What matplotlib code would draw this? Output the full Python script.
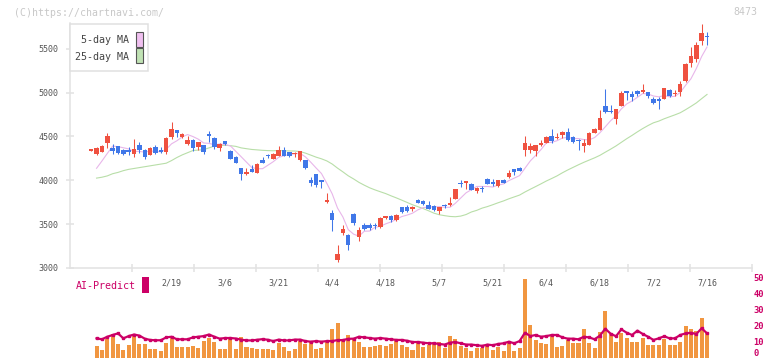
import numpy as np
import pandas as pd
import matplotlib
matplotlib.use("Agg")
import matplotlib.pyplot as plt
from matplotlib.patches import Rectangle

# OHLC, one row per trading day (index 0 .. 115)
opens = [4340, 4297, 4327, 4430, 4369, 4392, 4346, 4338, 4303, 4403,
         4346, 4293, 4380, 4331, 4319, 4495, 4575, 4498, 4415, 4460,
         4384, 4403, 4529, 4483, 4373, 4449, 4335, 4270, 4141, 4068,
         4129, 4087, 4232, 4281, 4243, 4278, 4342, 4327, 4297, 4232,
         4232, 4003, 4072, 3988, 3756, 3623, 3090, 3394, 3375, 3615,
         3356, 3490, 3490, 3490, 3463, 3574, 3593, 3547, 3695, 3699,
         3676, 3775, 3768, 3718, 3707, 3649, 3714, 3722, 3790, 3962,
         3973, 3958, 3878, 3901, 4015, 3966, 3935, 4003, 4034, 4125,
         4137, 4346, 4346, 4335, 4403, 4426, 4506, 4479, 4518, 4548,
         4491, 4449, 4392, 4403, 4537, 4575, 4849, 4784, 4697, 4849,
         5020, 4986, 5020, 5005, 5012, 4929, 4914, 4929, 5031, 4982,
         5012, 5134, 5344, 5382, 5591, 5648]
highs = [4345, 4384, 4405, 4540, 4414, 4392, 4361, 4377, 4472, 4433,
         4361, 4377, 4403, 4380, 4495, 4666, 4575, 4544, 4506, 4468,
         4437, 4403, 4563, 4491, 4430, 4449, 4346, 4278, 4141, 4141,
         4175, 4198, 4266, 4300, 4312, 4392, 4380, 4327, 4327, 4335,
         4232, 4038, 4072, 4003, 3851, 3661, 3261, 3490, 3387, 3623,
         3470, 3509, 3509, 3509, 3577, 3593, 3604, 3615, 3699, 3714,
         3707, 3783, 3775, 3764, 3714, 3695, 3730, 3806, 3901, 4003,
         3992, 3966, 3920, 3935, 4030, 4011, 4003, 4015, 4118, 4125,
         4152, 4506, 4422, 4403, 4460, 4506, 4586, 4537, 4567, 4597,
         4506, 4468, 4468, 4556, 4597, 4803, 5043, 4857, 4811, 5024,
         5020, 5024, 5031, 5096, 5012, 4955, 4948, 5051, 5043, 5031,
         5134, 5336, 5519, 5584, 5785, 5698]
lows = [4335, 4285, 4320, 4365, 4296, 4296, 4285, 4285, 4270, 4308,
        4247, 4289, 4304, 4316, 4300, 4475, 4495, 4479, 4403, 4338,
        4350, 4297, 4437, 4357, 4335, 4399, 4239, 4194, 4007, 4061,
        4095, 4087, 4201, 4251, 4243, 4278, 4278, 4270, 4270, 4224,
        4129, 3939, 3920, 3916, 3745, 3425, 3067, 3375, 3204, 3489,
        3311, 3432, 3432, 3440, 3455, 3554, 3524, 3535, 3630, 3642,
        3649, 3737, 3718, 3672, 3649, 3615, 3688, 3707, 3790, 3920,
        3905, 3890, 3859, 3871, 3954, 3935, 3920, 3973, 4030, 4061,
        4106, 4281, 4308, 4281, 4392, 4422, 4426, 4472, 4483, 4449,
        4422, 4346, 4327, 4403, 4537, 4575, 4765, 4765, 4643, 4849,
        4917, 4910, 4963, 4993, 4936, 4872, 4818, 4929, 4955, 4963,
        4963, 5127, 5298, 5355, 5546, 5546]
closes = [4345, 4369, 4392, 4506, 4338, 4316, 4305, 4327, 4357, 4346,
          4270, 4369, 4312, 4327, 4487, 4586, 4544, 4533, 4460, 4373,
          4437, 4327, 4510, 4384, 4411, 4411, 4247, 4201, 4076, 4099,
          4099, 4186, 4201, 4276, 4300, 4346, 4278, 4281, 4300, 4335,
          4144, 3973, 3950, 3984, 3775, 3547, 3158, 3444, 3261, 3516,
          3432, 3440, 3455, 3478, 3566, 3577, 3547, 3604, 3638, 3649,
          3684, 3737, 3733, 3672, 3657, 3695, 3707, 3726, 3901, 3958,
          3992, 3890, 3909, 3897, 3958, 3962, 4003, 3973, 4087, 4099,
          4106, 4422, 4392, 4403, 4430, 4495, 4449, 4483, 4556, 4460,
          4437, 4445, 4426, 4540, 4590, 4712, 4784, 4776, 4811, 4993,
          4993, 4955, 4982, 5031, 4963, 4879, 4910, 5051, 4963, 4990,
          5096, 5325, 5420, 5546, 5679, 5637]

# moving averages: first values (they need earlier days)
ma5_head = [4137, 4220, 4306]
ma25_head = [4025, 4035, 4050, 4075, 4090, 4110, 4125, 4135, 4145, 4155,
             4165, 4175, 4185, 4195, 4225, 4260, 4290, 4315, 4340, 4345,
             4350, 4370, 4390]

volume = [np.nan, 7.3, 4.8, 12.0, 14.7, 8.6, 4.8, 7.9, 13.6, 8.6,
          8.6, 5.4, 5.4, 4.2, 9.4, 12.1, 6.5, 6.8, 6.8, 7.3,
          6.1, 10.5, 12.4, 9.9, 5.4, 5.4, 11.5, 5.4, 12.9, 6.8,
          6.2, 5.5, 5.5, 5.2, 4.9, 9.2, 6.7, 4.3, 5.5, 10.4,
          8.6, 10.4, 5.4, 6.0, 10.4, 18.0, 21.8, 11.3, 14.3, 12.0,
          10.0, 7.0, 6.5, 7.4, 7.9, 7.3, 8.6, 10.2, 7.9, 6.9,
          4.8, 9.4, 6.9, 7.9, 9.6, 9.6, 6.2, 13.6, 11.9, 7.5,
          5.9, 4.4, 5.9, 5.9, 8.6, 4.8, 6.5, 4.4, 9.4, 4.2,
          6.1, 49.2, 20.4, 11.1, 9.2, 8.6, 13.4, 6.7, 7.3, 11.1,
          9.2, 9.2, 17.9, 9.2, 6.1, 16.1, 29.2, 14.7, 9.8, 15.2,
          12.1, 9.8, 9.8, 12.1, 7.9, 7.9, 7.9, 11.5, 7.9, 7.9,
          9.8, 19.8, 17.7, 16.9, 25.0, 15.2]
ai_predict = [np.nan, 12.1, 11.5, 13.1, 14.2, 15.2, 12.1, 13.5, 14.5, 13.8,
              11.9, 11.1, 10.9, 10.9, 12.7, 13.1, 11.5, 11.5, 11.5, 12.7,
              13.1, 13.5, 14.5, 13.1, 11.9, 12.3, 12.3, 12.0, 11.3, 10.8,
              10.8, 11.2, 11.6, 11.2, 10.4, 11.3, 10.8, 10.8, 11.3, 11.3,
              10.4, 10.0, 10.4, 10.0, 10.4, 10.4, 11.0, 11.0, 11.8, 11.9,
              13.1, 12.7, 12.3, 11.9, 12.3, 11.9, 11.5, 11.1, 11.1, 10.6,
              9.8, 9.8, 9.4, 9.0, 9.0, 8.6, 8.2, 9.4, 9.8, 9.0,
              8.2, 8.2, 7.8, 7.4, 8.2, 7.8, 8.6, 9.0, 10.0, 9.0,
              10.4, 15.6, 13.5, 14.2, 13.1, 13.5, 14.2, 14.2, 12.7, 11.9,
              11.9, 11.5, 13.1, 12.7, 11.5, 13.8, 18.1, 15.0, 13.4, 17.7,
              15.6, 14.2, 16.9, 14.8, 13.1, 11.1, 12.1, 13.4, 12.1, 12.1,
              14.2, 15.2, 15.6, 14.8, 18.4, 15.2]

date_labels = ["2/19", "3/6", "3/21", "4/4", "4/18", "5/7", "5/21",
               "6/4", "6/18", "7/2", "7/16"]
label_pos = [15, 25, 35, 45, 55, 65, 75, 85, 95, 105, 115]

UP = "#ef5140"
DOWN = "#4077e8"
MONO = "DejaVu Sans Mono"

W, H = 772, 361
def fx(px):
    return px / W
def fy(py):
    return 1 - py / H

fig = plt.figure(figsize=(W / 100, H / 100), dpi=100)

# price panel
ax = fig.add_axes([fx(70), fy(267.9), fx(752) - fx(70), fy(22.6) - fy(267.9)])
x = np.arange(len(closes))
ma5 = pd.Series(closes).rolling(5).mean().to_numpy()
ma5[1:4] = ma5_head
ma25 = pd.Series(closes).rolling(25).mean().to_numpy()
ma25[1:24] = ma25_head
ax.plot(x, ma25, color="#b8dea8", lw=0.8, zorder=1)
ax.plot(x, ma5, color="#e8b6ea", lw=0.8, zorder=1)

o = np.array(opens)
c = np.array(closes)
cols = [UP if cc >= oo else DOWN for oo, cc in zip(o, c)]
ax.vlines(x, lows, highs, colors=cols, lw=0.75, zorder=2)
body = np.maximum(np.abs(c - o), 14)
ax.bar(x, body, bottom=np.minimum(o, c), width=0.84, color=cols, zorder=3)

ax.set_xlim(-3.96, 123.4)
ax.set_ylim(3000, 5800)
ax.set_yticks([3000, 3500, 4000, 4500, 5000, 5500])
ax.set_xticks(label_pos)
ax.set_xticklabels(date_labels)
ax.set_xticks(np.linspace(-3.96, 123.4, 12)[1:], minor=True)
ax.tick_params(axis="x", which="major", length=0, pad=7.5,
               labelsize=6, labelcolor="#555555")
ax.tick_params(axis="x", which="minor", direction="inout", length=6,
               width=1.1, color="#e2e2e2")
ax.tick_params(axis="y", direction="inout", length=6, width=1.1,
               color="#e2e2e2", pad=5, labelsize=6, labelcolor="#555555")
for lab in ax.get_xticklabels() + ax.get_yticklabels():
    lab.set_family(MONO)
for s in ["top", "right"]:
    ax.spines[s].set_visible(False)
for s in ["left", "bottom"]:
    ax.spines[s].set_color("#e2e2e2")
    ax.spines[s].set_linewidth(1.1)

# volume / AI panel
ax2 = fig.add_axes([fx(70), fy(357.7), fx(752) - fx(70), fy(277.7) - fy(357.7)])
ax2.bar(x, volume, width=0.75, color="#f19640", zorder=1)
ax2.plot(x, ai_predict, color="#cc0066", lw=1.6, marker="s", ms=1.8, zorder=2)
ax2.set_xlim(-3.96, 123.4)
ax2.set_ylim(0, 50)
ax2.set_xticks([])
ax2.yaxis.tick_right()
ax2.set_yticks([0, 10, 20, 30, 40, 50])
ax2.tick_params(axis="y", length=0, pad=1, labelsize=6.3, labelcolor="#cc0066")
for lab in ax2.get_yticklabels():
    lab.set_family(MONO)
    lab.set_fontweight("bold")
# keep the bottom "0" inside the picture
ax2.get_yticklabels()[0].set_va("bottom")
for s in ax2.spines.values():
    s.set_visible(False)
ax2.patch.set_alpha(0)

# legend box
fig.patches.append(Rectangle((fx(70), fy(71)), fx(148) - fx(70), fy(24) - fy(71),
                             transform=fig.transFigure, facecolor="white",
                             edgecolor="#e0e0e0", lw=1.1, zorder=5))
fig.patches.append(Rectangle((fx(136), fy(47)), fx(143) - fx(136), fy(32) - fy(47),
                             transform=fig.transFigure, facecolor="#f0c0f0",
                             edgecolor="#555555", lw=0.8, zorder=6))
fig.patches.append(Rectangle((fx(136), fy(63)), fx(143) - fx(136), fy(48) - fy(63),
                             transform=fig.transFigure, facecolor="#c0e2b4",
                             edgecolor="#555555", lw=0.8, zorder=6))
fig.text(fx(129), fy(40), "5-day MA", ha="right", va="center", fontsize=7.2,
         family=MONO, color="#444444", zorder=7)
fig.text(fx(129), fy(57), "25-day MA", ha="right", va="center", fontsize=7.2,
         family=MONO, color="#444444", zorder=7)

# AI-Predict tag
fig.text(fx(76), fy(286), "AI-Predict", ha="left", va="center", fontsize=7.2,
         family=MONO, color="#cc0066")
fig.patches.append(Rectangle((fx(142), fy(293)), fx(149) - fx(142), fy(277) - fy(293),
                             transform=fig.transFigure, facecolor="#cc0066",
                             edgecolor="none"))

fig.text(fx(14), fy(12.5), "(C)https://chartnavi.com/", ha="left", va="center",
         fontsize=7.1, family=MONO, color="#c8c8c8")
fig.text(fx(757), fy(12), "8473", ha="right", va="center", fontsize=7.1,
         family=MONO, color="#c8c8c8")

fig.savefig("out.png", dpi=100)
